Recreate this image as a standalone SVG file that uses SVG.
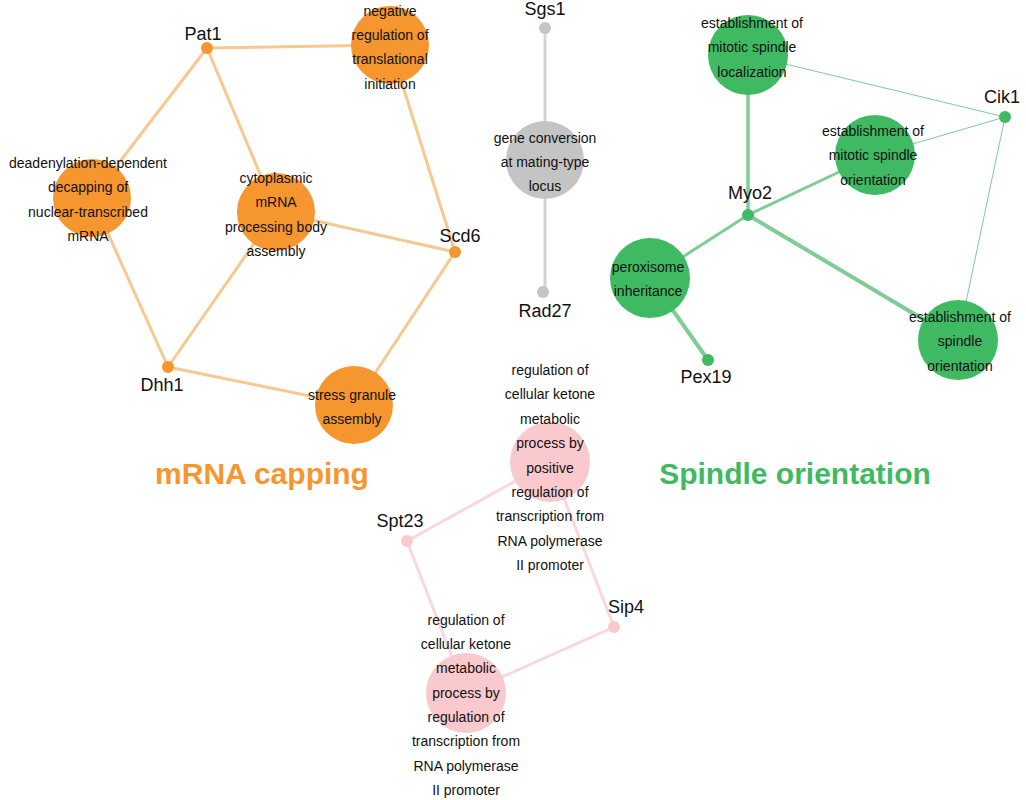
<svg xmlns="http://www.w3.org/2000/svg" width="1026" height="800" viewBox="0 0 1026 800">
<style>
text{font-family:"Liberation Sans",Arial,sans-serif;text-anchor:middle;fill:#111}
.t{font-size:14px}
.g{font-size:18px}
.o{fill:#f5962f}.oe{stroke:#f7c88f;stroke-width:3;fill:none}
.y{fill:#c4c4c4}.ye{stroke:#d4d4d4;stroke-width:3;fill:none}
.n{fill:#3fba62}.ne{stroke:#7fcc97;fill:none}
.p{fill:#fac9cd}.pe{stroke:#f8d8da;stroke-width:3;fill:none}
</style>
<rect width="1026" height="800" fill="#fff"/>
<g id="connectors">
<line class="oe" x1="207" y1="48" x2="390" y2="45"/>
<line class="oe" x1="207" y1="48" x2="92" y2="198"/>
<line class="oe" x1="207" y1="48" x2="276" y2="212"/>
<line class="oe" x1="390" y1="45" x2="455" y2="252"/>
<line class="oe" x1="276" y1="212" x2="455" y2="252"/>
<line class="oe" x1="455" y1="252" x2="354" y2="405"/>
<line class="oe" x1="92" y1="198" x2="168" y2="367"/>
<line class="oe" x1="276" y1="212" x2="168" y2="367"/>
<line class="oe" x1="168" y1="367" x2="354" y2="405"/>
<line class="ye" x1="545" y1="28" x2="545" y2="292"/>
<line class="ne" stroke-width="1" x1="748" y1="55" x2="1005" y2="117"/>
<line class="ne" stroke-width="1" x1="875" y1="155" x2="1005" y2="117"/>
<line class="ne" stroke-width="1" x1="1005" y1="117" x2="958" y2="340"/>
<line class="ne" stroke-width="3.5" x1="748" y1="55" x2="748" y2="215"/>
<line class="ne" stroke-width="3" x1="748" y1="215" x2="875" y2="155"/>
<line class="ne" stroke-width="3" x1="748" y1="215" x2="650" y2="278"/>
<line class="ne" stroke-width="4" x1="748" y1="215" x2="958" y2="340"/>
<line class="ne" stroke-width="4" x1="650" y1="278" x2="708" y2="360"/>
<line class="pe" x1="550" y1="462" x2="407" y2="541"/>
<line class="pe" x1="550" y1="462" x2="614" y2="627"/>
<line class="pe" x1="407" y1="541" x2="466" y2="693"/>
<line class="pe" x1="614" y1="627" x2="466" y2="693"/>
</g>
<g id="pat1"><circle class="o" cx="207" cy="48" r="6"/><text class="g" x="203" y="40">Pat1</text></g>
<g id="negreg"><circle class="o" cx="390" cy="45" r="39"/><text class="t" x="390" y="16">negative</text><text class="t" x="390" y="40">regulation of</text><text class="t" x="390" y="64">translational</text><text class="t" x="390" y="89">initiation</text></g>
<g id="deadenyl"><circle class="o" cx="92" cy="198" r="39"/><text class="t" x="88" y="168">deadenylation-dependent</text><text class="t" x="88" y="192">decapping of</text><text class="t" x="88" y="217">nuclear-transcribed</text><text class="t" x="88" y="241">mRNA</text></g>
<g id="cyto"><circle class="o" cx="276" cy="212" r="39"/><text class="t" x="276" y="183">cytoplasmic</text><text class="t" x="276" y="207">mRNA</text><text class="t" x="276" y="232">processing body</text><text class="t" x="276" y="256">assembly</text></g>
<g id="scd6"><circle class="o" cx="455" cy="252" r="6"/><text class="g" x="460" y="242">Scd6</text></g>
<g id="dhh1"><circle class="o" cx="168" cy="367" r="6"/><text class="g" x="162" y="391">Dhh1</text></g>
<g id="stress"><circle class="o" cx="354" cy="405" r="39"/><text class="t" x="352" y="400">stress granule</text><text class="t" x="352" y="424">assembly</text></g>
<g id="sgs1"><circle class="y" cx="545" cy="28" r="6"/><text class="g" x="545" y="15">Sgs1</text></g>
<g id="geneconv"><circle class="y" cx="545" cy="160" r="39"/><text class="t" x="545" y="143">gene conversion</text><text class="t" x="545" y="167">at mating-type</text><text class="t" x="545" y="191">locus</text></g>
<g id="rad27"><circle class="y" cx="543" cy="292" r="6"/><text class="g" x="545" y="317">Rad27</text></g>
<g id="loc"><circle class="n" cx="748" cy="55" r="40"/><text class="t" x="752" y="28">establishment of</text><text class="t" x="752" y="52">mitotic spindle</text><text class="t" x="752" y="77">localization</text></g>
<g id="cik1"><circle class="n" cx="1005" cy="117" r="6"/><text class="g" x="1002" y="103">Cik1</text></g>
<g id="orient"><circle class="n" cx="875" cy="155" r="40"/><text class="t" x="873" y="136">establishment of</text><text class="t" x="873" y="160">mitotic spindle</text><text class="t" x="873" y="185">orientation</text></g>
<g id="myo2"><circle class="n" cx="748" cy="215" r="6"/><text class="g" x="750" y="199">Myo2</text></g>
<g id="perox"><circle class="n" cx="650" cy="278" r="40"/><text class="t" x="648" y="272">peroxisome</text><text class="t" x="648" y="296">inheritance</text></g>
<g id="pex19"><circle class="n" cx="708" cy="360" r="6"/><text class="g" x="706" y="383">Pex19</text></g>
<g id="spindle"><circle class="n" cx="958" cy="340" r="40"/><text class="t" x="960" y="322">establishment of</text><text class="t" x="960" y="346">spindle</text><text class="t" x="960" y="371">orientation</text></g>
<g id="regtop"><circle class="p" cx="550" cy="462" r="40"/><text class="t" x="550" y="375">regulation of</text><text class="t" x="550" y="399">cellular ketone</text><text class="t" x="550" y="424">metabolic</text><text class="t" x="550" y="448">process by</text><text class="t" x="550" y="473">positive</text><text class="t" x="550" y="497">regulation of</text><text class="t" x="550" y="521">transcription from</text><text class="t" x="550" y="546">RNA polymerase</text><text class="t" x="550" y="570">II promoter</text></g>
<g id="spt23"><circle class="p" cx="407" cy="541" r="6"/><text class="g" x="400" y="527">Spt23</text></g>
<g id="sip4"><circle class="p" cx="614" cy="627" r="6"/><text class="g" x="626" y="613">Sip4</text></g>
<g id="regbot"><circle class="p" cx="466" cy="693" r="40"/><text class="t" x="466" y="625">regulation of</text><text class="t" x="466" y="649">cellular ketone</text><text class="t" x="466" y="673">metabolic</text><text class="t" x="466" y="698">process by</text><text class="t" x="466" y="722">regulation of</text><text class="t" x="466" y="746">transcription from</text><text class="t" x="466" y="771">RNA polymerase</text><text class="t" x="466" y="795">II promoter</text></g>
<text x="262" y="484" style="font-size:30px;font-weight:bold;fill:#f5962f">mRNA capping</text>
<text x="795" y="484" style="font-size:30px;font-weight:bold;fill:#3fba62">Spindle orientation</text>
</svg>
